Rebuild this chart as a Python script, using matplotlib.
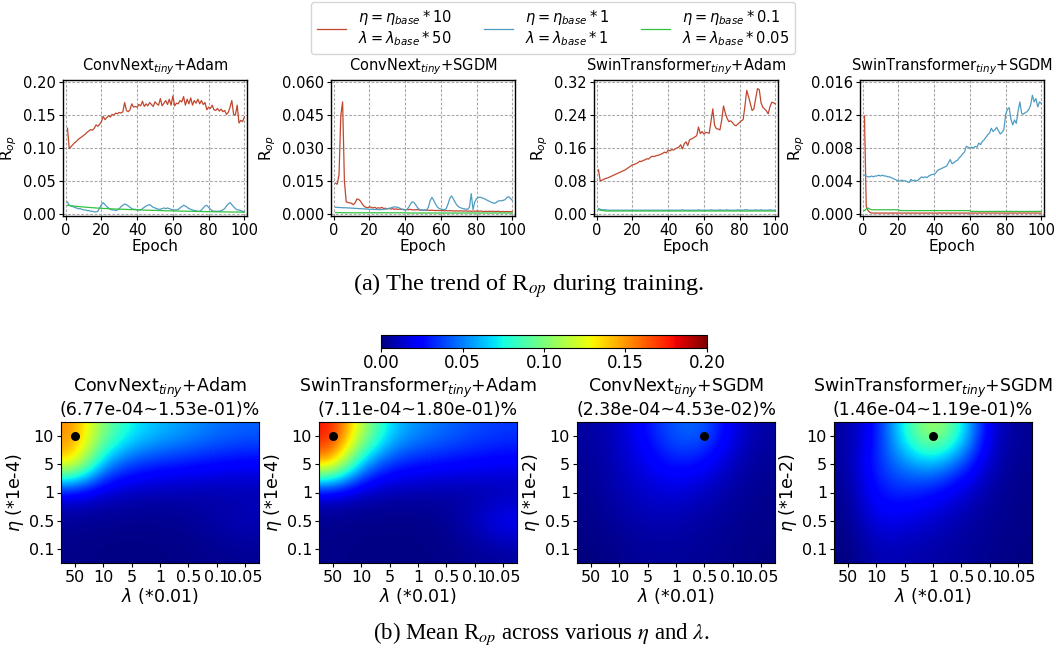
import numpy as np
import matplotlib
matplotlib.use("Agg")
import matplotlib.pyplot as plt
from matplotlib.ticker import MultipleLocator, FormatStrFormatter

# ---------------------------------------------------------------- data
epochs = list(range(1, 101))

# R_op per epoch, three (eta, lambda) settings per model/optimizer
convnext_adam_hi = [
    0.130, 0.099, 0.102, 0.105, 0.108, 0.110, 0.113, 0.115, 0.117, 0.119,
    0.121, 0.124, 0.126, 0.128, 0.127, 0.130, 0.135, 0.133, 0.136, 0.140,
    0.148, 0.143, 0.146, 0.149, 0.147, 0.151, 0.150, 0.153, 0.152, 0.154,
    0.153, 0.155, 0.169, 0.157, 0.155, 0.158, 0.167, 0.162, 0.163, 0.162,
    0.166, 0.164, 0.171, 0.163, 0.167, 0.164, 0.169, 0.166, 0.163, 0.170,
    0.167, 0.165, 0.175, 0.164, 0.168, 0.172, 0.166, 0.174, 0.165, 0.179,
    0.164, 0.168, 0.167, 0.172, 0.170, 0.178, 0.165, 0.174, 0.167, 0.176,
    0.165, 0.172, 0.168, 0.174, 0.167, 0.172, 0.166, 0.169, 0.158, 0.162,
    0.160, 0.165, 0.158, 0.157, 0.160, 0.156, 0.159, 0.155, 0.157, 0.151,
    0.154, 0.162, 0.172, 0.151, 0.150, 0.165, 0.138, 0.142, 0.140, 0.147]
convnext_adam_mid = [
    0.018, 0.013, 0.012, 0.011, 0.010, 0.009, 0.008, 0.008, 0.007, 0.006,
    0.006, 0.005, 0.005, 0.004, 0.004, 0.003, 0.003, 0.004, 0.009, 0.014,
    0.017, 0.014, 0.011, 0.009, 0.007, 0.006, 0.006, 0.005, 0.006, 0.008,
    0.011, 0.013, 0.015, 0.014, 0.012, 0.010, 0.008, 0.007, 0.007, 0.006,
    0.006, 0.006, 0.008, 0.010, 0.012, 0.013, 0.014, 0.012, 0.010, 0.009,
    0.008, 0.007, 0.007, 0.008, 0.009, 0.008, 0.009, 0.008, 0.007, 0.006,
    0.006, 0.006, 0.007, 0.009, 0.011, 0.013, 0.012, 0.010, 0.008, 0.007,
    0.006, 0.005, 0.005, 0.004, 0.004, 0.006, 0.009, 0.012, 0.013, 0.010,
    0.007, 0.005, 0.004, 0.004, 0.004, 0.004, 0.005, 0.006, 0.008, 0.012,
    0.015, 0.017, 0.014, 0.011, 0.008, 0.006, 0.006, 0.005, 0.004, 0.003]
convnext_adam_lo = [
    0.0130, 0.0127, 0.0124, 0.0121, 0.0118, 0.0115, 0.0112, 0.0110, 0.0107, 0.0105,
    0.0102, 0.0100, 0.0098, 0.0096, 0.0094, 0.0092, 0.0090, 0.0088, 0.0086, 0.0085,
    0.0083, 0.0082, 0.0080, 0.0079, 0.0077, 0.0076, 0.0075, 0.0074, 0.0073, 0.0072,
    0.0071, 0.0070, 0.0069, 0.0068, 0.0067, 0.0066, 0.0065, 0.0064, 0.0063, 0.0062,
    0.0061, 0.0060, 0.0059, 0.0058, 0.0057, 0.0056, 0.0055, 0.0054, 0.0054, 0.0053,
    0.0052, 0.0051, 0.0050, 0.0050, 0.0049, 0.0048, 0.0047, 0.0047, 0.0046, 0.0045,
    0.0045, 0.0044, 0.0043, 0.0043, 0.0042, 0.0041, 0.0041, 0.0040, 0.0040, 0.0039,
    0.0038, 0.0038, 0.0037, 0.0037, 0.0036, 0.0036, 0.0035, 0.0035, 0.0034, 0.0034,
    0.0033, 0.0033, 0.0032, 0.0032, 0.0032, 0.0031, 0.0031, 0.0030, 0.0030, 0.0030,
    0.0029, 0.0029, 0.0029, 0.0028, 0.0028, 0.0028, 0.0027, 0.0027, 0.0027, 0.0026]

convnext_sgdm_hi = [
    0.0140, 0.0135, 0.0180, 0.0450, 0.0510, 0.0150, 0.0055, 0.0052, 0.0050, 0.0048,
    0.0042, 0.0050, 0.0068, 0.0066, 0.0058, 0.0045, 0.0035, 0.0030, 0.0028, 0.0032,
    0.0030, 0.0027, 0.0030, 0.0025, 0.0028, 0.0026, 0.0030, 0.0024, 0.0026, 0.0023,
    0.0025, 0.0022, 0.0024, 0.0021, 0.0023, 0.0020, 0.0022, 0.0020, 0.0021, 0.0019,
    0.0020, 0.0019, 0.0021, 0.0018, 0.0019, 0.0018, 0.0020, 0.0017, 0.0018, 0.0017,
    0.0018, 0.0016, 0.0017, 0.0016, 0.0017, 0.0016, 0.0015, 0.0016, 0.0015, 0.0016,
    0.0015, 0.0014, 0.0015, 0.0014, 0.0015, 0.0014, 0.0014, 0.0013, 0.0014, 0.0013,
    0.0014, 0.0013, 0.0013, 0.0014, 0.0012, 0.0013, 0.0012, 0.0013, 0.0012, 0.0013,
    0.0012, 0.0013, 0.0012, 0.0011, 0.0012, 0.0011, 0.0012, 0.0011, 0.0012, 0.0011,
    0.0011, 0.0012, 0.0011, 0.0010, 0.0011, 0.0010, 0.0011, 0.0010, 0.0010, 0.0010]
convnext_sgdm_mid = [
    0.0030, 0.0030, 0.0029, 0.0029, 0.0028, 0.0028, 0.0028, 0.0027, 0.0027, 0.0026,
    0.0026, 0.0025, 0.0025, 0.0024, 0.0024, 0.0023, 0.0023, 0.0022, 0.0022, 0.0021,
    0.0021, 0.0021, 0.0020, 0.0020, 0.0020, 0.0019, 0.0020, 0.0021, 0.0022, 0.0023,
    0.0025, 0.0027, 0.0030, 0.0032, 0.0031, 0.0030, 0.0026, 0.0022, 0.0019, 0.0018,
    0.0020, 0.0030, 0.0045, 0.0055, 0.0052, 0.0040, 0.0028, 0.0020, 0.0018, 0.0017,
    0.0017, 0.0018, 0.0030, 0.0060, 0.0075, 0.0062, 0.0045, 0.0032, 0.0025, 0.0022,
    0.0020, 0.0019, 0.0024, 0.0045, 0.0070, 0.0082, 0.0068, 0.0052, 0.0040, 0.0032,
    0.0028, 0.0025, 0.0023, 0.0022, 0.0021, 0.0030, 0.0092, 0.0020, 0.0055, 0.0070,
    0.0075, 0.0076, 0.0073, 0.0070, 0.0066, 0.0062, 0.0058, 0.0054, 0.0050, 0.0048,
    0.0052, 0.0058, 0.0060, 0.0060, 0.0062, 0.0065, 0.0075, 0.0078, 0.0070, 0.0062]
convnext_sgdm_lo = [
    0.0006, 0.0006, 0.0006, 0.0006, 0.0005, 0.0005, 0.0005, 0.0005, 0.0005, 0.0005,
    0.0005, 0.0005, 0.0005, 0.0005, 0.0005, 0.0005, 0.0005, 0.0005, 0.0005, 0.0005,
    0.0005, 0.0005, 0.0005, 0.0005, 0.0005, 0.0005, 0.0005, 0.0005, 0.0005, 0.0005,
    0.0005, 0.0005, 0.0005, 0.0005, 0.0005, 0.0005, 0.0005, 0.0005, 0.0005, 0.0005,
    0.0004, 0.0004, 0.0004, 0.0004, 0.0004, 0.0004, 0.0004, 0.0004, 0.0004, 0.0004,
    0.0004, 0.0004, 0.0004, 0.0004, 0.0004, 0.0004, 0.0004, 0.0004, 0.0004, 0.0004,
    0.0004, 0.0004, 0.0004, 0.0004, 0.0004, 0.0004, 0.0004, 0.0004, 0.0004, 0.0004,
    0.0004, 0.0004, 0.0004, 0.0004, 0.0004, 0.0004, 0.0004, 0.0004, 0.0004, 0.0004,
    0.0004, 0.0004, 0.0004, 0.0004, 0.0004, 0.0004, 0.0004, 0.0004, 0.0004, 0.0004,
    0.0004, 0.0004, 0.0004, 0.0004, 0.0004, 0.0004, 0.0004, 0.0004, 0.0004, 0.0004]

swin_adam_hi = [
    0.107, 0.080, 0.082, 0.084, 0.086, 0.087, 0.089, 0.091, 0.093, 0.095,
    0.097, 0.099, 0.101, 0.103, 0.105, 0.107, 0.110, 0.113, 0.116, 0.119,
    0.120, 0.122, 0.124, 0.128, 0.127, 0.130, 0.131, 0.134, 0.133, 0.137,
    0.140, 0.139, 0.141, 0.142, 0.143, 0.145, 0.147, 0.150, 0.148, 0.155,
    0.153, 0.156, 0.155, 0.158, 0.160, 0.162, 0.168, 0.158, 0.170, 0.175,
    0.166, 0.180, 0.182, 0.184, 0.187, 0.190, 0.211, 0.195, 0.200, 0.194,
    0.198, 0.197, 0.196, 0.225, 0.255, 0.215, 0.207, 0.206, 0.204, 0.228,
    0.262, 0.245, 0.232, 0.224, 0.226, 0.222, 0.216, 0.214, 0.218, 0.222,
    0.226, 0.229, 0.262, 0.300, 0.285, 0.268, 0.251, 0.255, 0.280, 0.304,
    0.302, 0.270, 0.259, 0.255, 0.250, 0.243, 0.260, 0.271, 0.270, 0.267]
swin_adam_mid = [
    0.013, 0.011, 0.010, 0.010, 0.010, 0.009, 0.009, 0.009, 0.009, 0.009,
    0.009, 0.009, 0.009, 0.009, 0.009, 0.009, 0.009, 0.009, 0.009, 0.009,
    0.009, 0.009, 0.009, 0.009, 0.009, 0.009, 0.009, 0.009, 0.009, 0.009,
    0.009, 0.009, 0.009, 0.009, 0.009, 0.009, 0.009, 0.009, 0.009, 0.009,
    0.009, 0.009, 0.009, 0.009, 0.009, 0.009, 0.009, 0.010, 0.009, 0.009,
    0.009, 0.009, 0.009, 0.009, 0.009, 0.009, 0.010, 0.009, 0.009, 0.009,
    0.009, 0.009, 0.009, 0.010, 0.009, 0.009, 0.009, 0.009, 0.010, 0.009,
    0.009, 0.009, 0.010, 0.009, 0.009, 0.009, 0.009, 0.009, 0.010, 0.009,
    0.009, 0.009, 0.010, 0.010, 0.009, 0.009, 0.009, 0.009, 0.010, 0.009,
    0.009, 0.010, 0.009, 0.009, 0.009, 0.009, 0.010, 0.009, 0.009, 0.009]
swin_adam_lo = [
    0.010, 0.009, 0.008, 0.008, 0.007, 0.007, 0.007, 0.007, 0.007, 0.007,
    0.007, 0.007, 0.007, 0.007, 0.007, 0.007, 0.007, 0.007, 0.007, 0.007,
    0.007, 0.007, 0.007, 0.007, 0.007, 0.007, 0.007, 0.007, 0.007, 0.007,
    0.007, 0.007, 0.007, 0.007, 0.007, 0.007, 0.007, 0.007, 0.007, 0.007,
    0.007, 0.007, 0.007, 0.007, 0.007, 0.007, 0.007, 0.007, 0.007, 0.007,
    0.007, 0.007, 0.007, 0.007, 0.007, 0.007, 0.007, 0.007, 0.007, 0.007,
    0.007, 0.007, 0.007, 0.007, 0.007, 0.007, 0.007, 0.007, 0.007, 0.007,
    0.007, 0.007, 0.007, 0.007, 0.007, 0.007, 0.007, 0.007, 0.007, 0.007,
    0.007, 0.007, 0.007, 0.007, 0.007, 0.007, 0.007, 0.007, 0.007, 0.007,
    0.007, 0.007, 0.007, 0.007, 0.007, 0.007, 0.007, 0.007, 0.007, 0.007]

swin_sgdm_hi = [
    0.0119, 0.0009, 0.0004, 0.0002, 0.0001, 0.0001, 0.0001, 0.0001, 0.0001, 0.0001,
    0.0001, 0.0001, 0.0001, 0.0001, 0.0001, 0.0001, 0.0001, 0.0001, 0.0001, 0.0001,
    0.0001, 0.0001, 0.0001, 0.0001, 0.0001, 0.0001, 0.0001, 0.0001, 0.0001, 0.0001,
    0.0001, 0.0001, 0.0001, 0.0001, 0.0001, 0.0001, 0.0001, 0.0001, 0.0001, 0.0001,
    0.0001, 0.0001, 0.0001, 0.0001, 0.0001, 0.0001, 0.0001, 0.0001, 0.0001, 0.0001,
    0.0001, 0.0001, 0.0001, 0.0001, 0.0001, 0.0001, 0.0001, 0.0001, 0.0001, 0.0001,
    0.0001, 0.0001, 0.0001, 0.0001, 0.0001, 0.0001, 0.0001, 0.0001, 0.0001, 0.0001,
    0.0001, 0.0001, 0.0001, 0.0001, 0.0001, 0.0001, 0.0001, 0.0001, 0.0001, 0.0001,
    0.0001, 0.0001, 0.0001, 0.0001, 0.0001, 0.0001, 0.0001, 0.0001, 0.0001, 0.0001,
    0.0001, 0.0001, 0.0001, 0.0001, 0.0001, 0.0001, 0.0001, 0.0001, 0.0001, 0.0001]
swin_sgdm_mid = [
    0.0047, 0.0046, 0.0045, 0.0045, 0.0046, 0.0045, 0.0046, 0.0046, 0.0047, 0.0046,
    0.0047, 0.0046, 0.0046, 0.0045, 0.0045, 0.0044, 0.0043, 0.0042, 0.0041, 0.0040,
    0.0040, 0.0041, 0.0040, 0.0040, 0.0039, 0.0038, 0.0042, 0.0040, 0.0041, 0.0040,
    0.0041, 0.0043, 0.0045, 0.0044, 0.0045, 0.0044, 0.0046, 0.0047, 0.0048, 0.0048,
    0.0050, 0.0053, 0.0054, 0.0055, 0.0056, 0.0057, 0.0058, 0.0062, 0.0066, 0.0061,
    0.0062, 0.0064, 0.0065, 0.0068, 0.0070, 0.0073, 0.0075, 0.0082, 0.0081, 0.0080,
    0.0081, 0.0080, 0.0082, 0.0081, 0.0086, 0.0084, 0.0088, 0.0090, 0.0093, 0.0096,
    0.0098, 0.0104, 0.0100, 0.0102, 0.0105, 0.0101, 0.0097, 0.0099, 0.0102, 0.0120,
    0.0127, 0.0129, 0.0115, 0.0108, 0.0114, 0.0110, 0.0125, 0.0136, 0.0122, 0.0121,
    0.0123, 0.0124, 0.0127, 0.0132, 0.0144, 0.0136, 0.0140, 0.0130, 0.0136, 0.0134]
swin_sgdm_lo = [
    0.0004, 0.0006, 0.0007, 0.0006, 0.0005, 0.0005, 0.0005, 0.0005, 0.0005, 0.0005,
    0.0005, 0.0005, 0.0005, 0.0005, 0.0005, 0.0005, 0.0005, 0.0005, 0.0005, 0.0005,
    0.0004, 0.0004, 0.0004, 0.0004, 0.0004, 0.0004, 0.0004, 0.0004, 0.0004, 0.0004,
    0.0004, 0.0004, 0.0004, 0.0004, 0.0004, 0.0004, 0.0004, 0.0004, 0.0004, 0.0004,
    0.0004, 0.0004, 0.0004, 0.0004, 0.0004, 0.0004, 0.0004, 0.0004, 0.0004, 0.0004,
    0.0004, 0.0004, 0.0004, 0.0004, 0.0004, 0.0004, 0.0004, 0.0004, 0.0004, 0.0004,
    0.0003, 0.0003, 0.0003, 0.0003, 0.0003, 0.0003, 0.0003, 0.0003, 0.0003, 0.0003,
    0.0003, 0.0003, 0.0003, 0.0003, 0.0003, 0.0003, 0.0003, 0.0003, 0.0003, 0.0003,
    0.0003, 0.0003, 0.0003, 0.0003, 0.0003, 0.0003, 0.0003, 0.0003, 0.0003, 0.0003,
    0.0003, 0.0003, 0.0003, 0.0003, 0.0003, 0.0003, 0.0003, 0.0003, 0.0003, 0.0003]

line_titles = ["ConvNext$_{tiny}$+Adam", "ConvNext$_{tiny}$+SGDM",
               "SwinTransformer$_{tiny}$+Adam", "SwinTransformer$_{tiny}$+SGDM"]
line_series = [
    (convnext_adam_hi, convnext_adam_mid, convnext_adam_lo),
    (convnext_sgdm_hi, convnext_sgdm_mid, convnext_sgdm_lo),
    (swin_adam_hi, swin_adam_mid, swin_adam_lo),
    (swin_sgdm_hi, swin_sgdm_mid, swin_sgdm_lo),
]
y_tops = [0.20, 0.060, 0.32, 0.016]
y_steps = [0.05, 0.015, 0.08, 0.004]
y_fmts = ["%.2f", "%.3f", "%.2f", "%.3f"]

legend_labels = [
    "$\\eta = \\eta_{base} * 10$\n$\\lambda = \\lambda_{base} * 50$",
    "$\\eta = \\eta_{base} * 1$\n$\\lambda = \\lambda_{base} * 1$",
    "$\\eta = \\eta_{base} * 0.1$\n$\\lambda = \\lambda_{base} * 0.05$",
]
line_colors = ["#c0472e", "#4f9cc3", "#33c23f"]

# mean R_op on the (eta, lambda) grid; rows = eta, columns = lambda
lambda_labels = ["50", "10", "5", "1", "0.5", "0.1", "0.05"]
eta_labels = ["10", "5", "1", "0.5", "0.1"]

grid_convnext_adam = [
    [0.153, 0.100, 0.072, 0.062, 0.055, 0.048, 0.044],
    [0.140, 0.055, 0.036, 0.030, 0.027, 0.024, 0.022],
    [0.016, 0.012, 0.009, 0.008, 0.008, 0.007, 0.008],
    [0.004, 0.003, 0.003, 0.003, 0.004, 0.008, 0.011],
    [0.002, 0.001, 0.000677, 0.001, 0.002, 0.003, 0.004],
]
grid_swin_adam = [
    [0.180, 0.115, 0.066, 0.053, 0.046, 0.040, 0.036],
    [0.150, 0.058, 0.033, 0.027, 0.025, 0.023, 0.021],
    [0.012, 0.009, 0.007, 0.007, 0.006, 0.006, 0.008],
    [0.003, 0.002, 0.002, 0.002, 0.004, 0.012, 0.024],
    [0.002, 0.001, 0.000711, 0.001, 0.002, 0.004, 0.006],
]
grid_convnext_sgdm = [
    [0.006, 0.012, 0.028, 0.045, 0.0453, 0.018, 0.006],
    [0.004, 0.011, 0.020, 0.030, 0.024, 0.010, 0.004],
    [0.003, 0.009, 0.014, 0.016, 0.011, 0.006, 0.003],
    [0.002, 0.006, 0.009, 0.009, 0.006, 0.004, 0.002],
    [0.000238, 0.003, 0.005, 0.005, 0.004, 0.003, 0.001],
]
grid_swin_sgdm = [
    [0.006, 0.026, 0.078, 0.119, 0.078, 0.014, 0.004],
    [0.005, 0.034, 0.052, 0.062, 0.040, 0.010, 0.003],
    [0.003, 0.028, 0.032, 0.026, 0.015, 0.006, 0.002],
    [0.002, 0.020, 0.018, 0.013, 0.008, 0.004, 0.002],
    [0.000146, 0.010, 0.009, 0.007, 0.005, 0.003, 0.001],
]
heat_titles = ["ConvNext$_{tiny}$+Adam", "SwinTransformer$_{tiny}$+Adam",
               "ConvNext$_{tiny}$+SGDM", "SwinTransformer$_{tiny}$+SGDM"]
heat_grids = [grid_convnext_adam, grid_swin_adam, grid_convnext_sgdm, grid_swin_sgdm]
heat_eta_units = ["(*1e-4)", "(*1e-4)", "(*1e-2)", "(*1e-2)"]
cbar_ticks = [0.00, 0.05, 0.10, 0.15, 0.20]

# ---------------------------------------------------------------- figure
W, H = 1056, 655
fig = plt.figure(figsize=(W / 100, H / 100), dpi=100)


def px_box(left, top, right, bottom):
    return [left / W, 1 - bottom / H, (right - left) / W, (bottom - top) / H]


top_lefts = [63, 331, 594, 860]
handles = None
for i in range(4):
    ax = fig.add_axes(px_box(top_lefts[i], 80, top_lefts[i] + 184, 216))
    hs = []
    for s, c in zip(line_series[i], line_colors):
        h, = ax.plot(epochs, s, color=c, lw=0.9)
        hs.append(h)
    handles = hs
    top = y_tops[i]
    ax.set_xlim(-1.5, 101.5)
    ax.set_ylim(-0.016 * top, 1.016 * top)
    ax.xaxis.set_major_locator(MultipleLocator(20))
    ax.yaxis.set_major_locator(MultipleLocator(y_steps[i]))
    ax.yaxis.set_major_formatter(FormatStrFormatter(y_fmts[i]))
    ax.grid(True, color="#a8a8a8", linestyle=(0, (2.5, 1.5)), linewidth=0.8)
    ax.tick_params(labelsize=10.5, length=3, pad=2)
    ax.set_xlabel("Epoch", fontsize=11, labelpad=1)
    ax.set_ylabel("R$_{op}$", fontsize=11, labelpad=3)
    ax.set_title(line_titles[i], fontsize=10.5, pad=7)
    for sp in ax.spines.values():
        sp.set_linewidth(1.0)

fig.legend(handles, legend_labels, ncol=3, loc="upper center",
           bbox_to_anchor=(553 / W, 1 - 2 / H), borderaxespad=0,
           fontsize=10.5, frameon=True, edgecolor="#cccccc",
           handlelength=2.0, columnspacing=2.2, labelspacing=0.2)

fig.text(0.5, 1 - 286 / H, "(a) The trend of R$_{op}$ during training.",
         ha="center", va="center", fontsize=17.5, family="Liberation Serif",
         math_fontfamily="stix")

heat_lefts = [61, 319, 577, 834]
im = None
for i in range(4):
    ax = fig.add_axes(px_box(heat_lefts[i], 422, heat_lefts[i] + 198, 563))
    grid = np.array(heat_grids[i])
    im = ax.imshow(grid, cmap="jet", vmin=0, vmax=0.2, interpolation="bicubic",
                   aspect="auto")
    r, c = np.unravel_index(np.argmax(grid), grid.shape)
    ax.scatter([c], [r], s=30, color="black", zorder=3)
    ax.set_xticks(range(len(lambda_labels)))
    ax.set_xticklabels(lambda_labels)
    ax.set_yticks(range(len(eta_labels)))
    ax.set_yticklabels(eta_labels)
    ax.tick_params(labelsize=11.5, length=3, pad=2)
    ax.set_xlabel("$\\lambda$ (*0.01)", fontsize=12.5, labelpad=1)
    ax.set_ylabel("$\\eta$ " + heat_eta_units[i], fontsize=12.5, labelpad=2)
    ax.set_title(heat_titles[i] + "\n(%.2e~%.2e)%%" % (grid.min(), grid.max()),
                 fontsize=12.5, pad=5, linespacing=1.1)

cax = fig.add_axes(px_box(381, 335, 707, 348))
cb = fig.colorbar(im, cax=cax, orientation="horizontal", ticks=cbar_ticks)
cb.ax.xaxis.set_major_formatter(FormatStrFormatter("%.2f"))
cb.ax.tick_params(labelsize=12, length=3, pad=1)

fig.text(541 / W, 1 - 634 / H, "(b) Mean R$_{op}$ across various $\\eta$ and $\\lambda$.",
         ha="center", va="center", fontsize=16.5, family="Liberation Serif",
         math_fontfamily="stix")

fig.savefig("out.png", dpi=100)
